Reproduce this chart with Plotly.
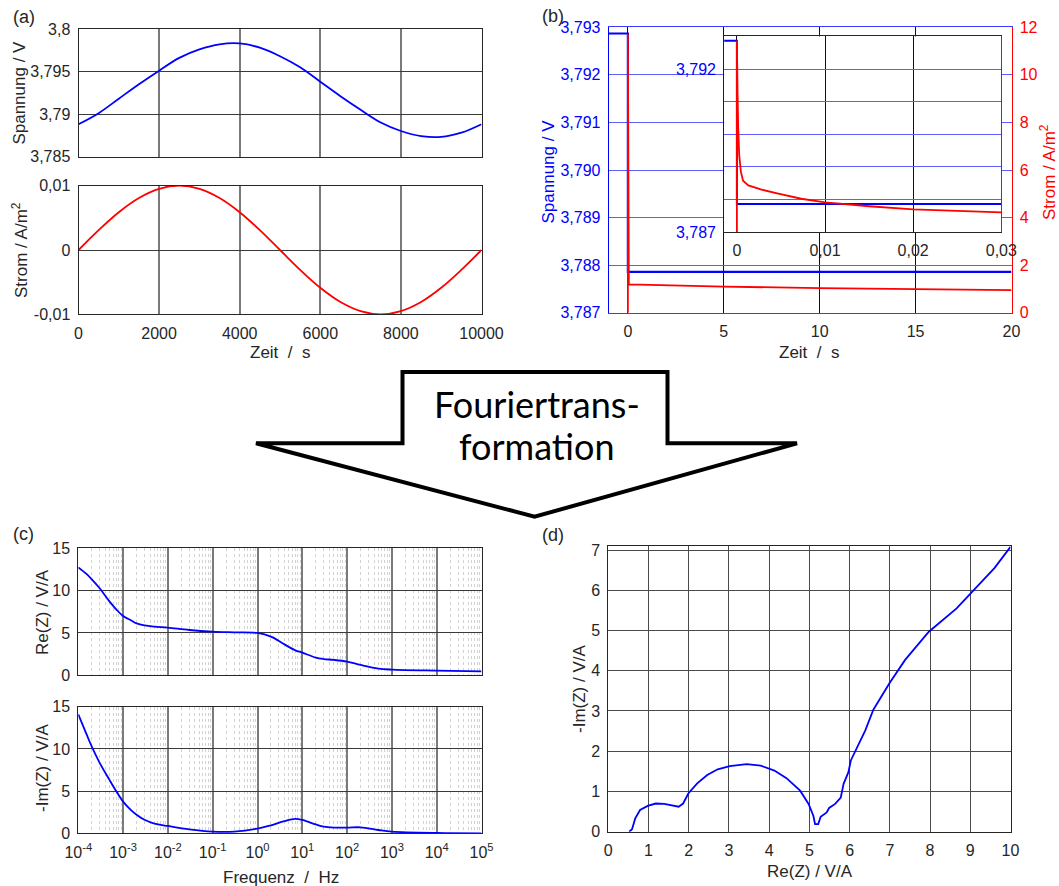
import plotly.graph_objects as go

W, H = 1059, 886


def xdom(a, b):
    return [a / W, b / W]


def ydom(top, bottom):
    return [1 - bottom / H, 1 - top / H]


def px(x):
    return x / W


def py(y):
    return 1 - y / H


FONT = "Liberation Sans, Arial, sans-serif"
TXT = "#262626"
BLUE = "#0000ff"
RED = "#ff0000"

# ---------------- data (a) ----------------
time_a = [0, 500, 1000, 1500, 2000, 2500, 3000, 3500, 4000, 4500, 5000,
          5500, 6000, 6500, 7000, 7500, 8000, 8500, 9000, 9500, 10000]
volt_a = [3.7888, 3.7901, 3.7918, 3.7935, 3.7951, 3.7966, 3.7976, 3.7982, 3.7983, 3.7978, 3.7968,
          3.7955, 3.7938, 3.7921, 3.7905, 3.7890, 3.7880, 3.7874, 3.7873, 3.7878, 3.7888]
curr_a = [0.0, 0.00309, 0.00588, 0.00809, 0.00951, 0.0100, 0.00951, 0.00809, 0.00588, 0.00309, 0.0,
          -0.00309, -0.00588, -0.00809, -0.00951, -0.0100, -0.00951, -0.00809, -0.00588, -0.00309, 0.0]
ticks_a_x = [0, 2000, 4000, 6000, 8000, 10000]
ticktext_a_x = ["0", "2000", "4000", "6000", "8000", "10000"]
ticks_a_v = [3.785, 3.79, 3.795, 3.8]
ticktext_a_v = ["3,785", "3,79", "3,795", "3,8"]
ticks_a_i = [-0.01, 0, 0.01]
ticktext_a_i = ["-0,01", "0", "0,01"]

# ---------------- data (b) ----------------
time_b_volt = [-1, 0, 0, 20]
volt_b = [3.79287, 3.79287, 3.78786, 3.78786]
time_b_curr = [0, 0, 0.05, 1, 2, 5, 10, 15, 20]
curr_b = [0, 11.73, 1.19, 1.17, 1.15, 1.10, 1.03, 0.98, 0.95]
ticks_b_x = [0, 5, 10, 15, 20]
ticktext_b_x = ["0", "5", "10", "15", "20"]
ticks_b_v = [3.787, 3.788, 3.789, 3.790, 3.791, 3.792, 3.793]
ticktext_b_v = ["3,787", "3,788", "3,789", "3,790", "3,791", "3,792", "3,793"]
ticks_b_i = [0, 2, 4, 6, 8, 10, 12]
ticktext_b_i = ["0", "2", "4", "6", "8", "10", "12"]

# inset of (b)
time_i_volt = [-0.002, 0, 0, 0.03]
volt_i = [3.79287, 3.79287, 3.78786, 3.78786]
time_i_curr = [0, 0, 0.00008, 0.00015, 0.00026, 0.00045, 0.0007, 0.0013,
               0.0028, 0.0047, 0.0073, 0.01, 0.015, 0.02, 0.025, 0.03]
curr_i = [0, 11.73, 8.4, 6.4, 4.75, 3.7, 3.15, 2.86,
          2.6, 2.35, 2.04, 1.82, 1.58, 1.39, 1.28, 1.21]
ticks_i_x = [0, 0.01, 0.02, 0.03]
ticktext_i_x = ["0", "0,01", "0,02", "0,03"]
ticktext_i_v = ["3,787", "", "", "", "", "3,792", ""]

# ---------------- data (c) ----------------
freq_c = [1e-4, 1.5e-4, 2e-4, 3e-4, 5e-4, 7e-4, 1e-3, 1.5e-3, 2e-3, 3e-3, 5e-3, 1e-2, 3e-2,
          1e-1, 3e-1, 1, 2, 4, 7, 10, 20, 30, 50, 100, 200, 500, 1e3, 1e4, 1e5]
re_c = [12.75, 12.0, 11.34, 10.28, 8.7, 7.8, 7.0, 6.5, 6.14, 5.9, 5.75, 5.63, 5.35,
        5.16, 5.08, 5.0, 4.57, 3.65, 2.95, 2.68, 2.09, 1.92, 1.82, 1.61, 1.22, 0.79, 0.67, 0.55, 0.47]
im_c = [14.09, 11.84, 10.26, 8.35, 6.3, 5.0, 3.75, 2.75, 2.2, 1.6, 1.15, 0.87, 0.47,
        0.2, 0.2, 0.55, 0.95, 1.45, 1.7, 1.58, 1.05, 0.79, 0.68, 0.67, 0.71, 0.39, 0.2, 0.04, 0.0]
ticks_c_x = [1e-4, 1e-3, 1e-2, 1e-1, 1, 10, 100, 1e3, 1e4, 1e5]
ticktext_c_x = ["10<sup>-4</sup>", "10<sup>-3</sup>", "10<sup>-2</sup>", "10<sup>-1</sup>",
                "10<sup>0</sup>", "10<sup>1</sup>", "10<sup>2</sup>", "10<sup>3</sup>",
                "10<sup>4</sup>", "10<sup>5</sup>"]
minor_c_x = [m * d for d in [1e-4, 1e-3, 1e-2, 1e-1, 1, 10, 100, 1e3, 1e4] for m in range(2, 10)]
ticks_c_y = [0, 5, 10, 15]
ticktext_c_y = ["0", "5", "10", "15"]

# ---------------- data (d) ----------------
re_d = [0.52, 0.59, 0.67, 0.79, 0.98, 1.18, 1.39, 1.61, 1.75, 1.86, 1.99, 2.21, 2.46, 2.72,
        3.02, 3.44, 3.79, 4.13, 4.43, 4.77, 4.98, 5.10, 5.14, 5.22, 5.28, 5.43, 5.49, 5.64,
        5.78, 5.85, 5.97, 6.03, 6.18, 6.39, 6.59, 6.99, 7.38, 7.97, 8.66, 9.17, 9.6, 10.0]
im_d = [0.0, 0.06, 0.33, 0.54, 0.64, 0.70, 0.69, 0.65, 0.62, 0.70, 0.95, 1.20, 1.41, 1.55,
        1.63, 1.68, 1.64, 1.52, 1.33, 1.02, 0.69, 0.39, 0.19, 0.19, 0.37, 0.48, 0.59, 0.69,
        0.85, 1.19, 1.48, 1.77, 2.07, 2.52, 3.03, 3.69, 4.27, 4.97, 5.55, 6.09, 6.55, 7.08]
ticks_d_x = list(range(0, 11))
ticks_d_y = list(range(0, 8))

fig = go.Figure()


def line(x, y, xa, ya, color, width=1.8, shape="linear"):
    fig.add_trace(go.Scatter(x=x, y=y, xaxis=xa, yaxis=ya, mode="lines",
                             line=dict(color=color, width=width, shape=shape),
                             showlegend=False, hoverinfo="skip"))


line(time_a, volt_a, "x", "y", BLUE, 1.8, "spline")
line(time_a, curr_a, "x2", "y2", RED, 1.8, "spline")
line(time_b_volt, volt_b, "x3", "y3", BLUE, 2.2)
line(time_b_curr, curr_b, "x3", "y4", RED, 1.8)
line(time_i_volt, volt_i, "x5", "y5", BLUE, 2.0)
line(time_i_curr, curr_i, "x5", "y6", RED, 1.8)
line(freq_c, re_c, "x7", "y7", BLUE, 1.8, "spline")
line(freq_c, im_c, "x8", "y8", BLUE, 1.8, "spline")
line(re_d, im_d, "x9", "y9", BLUE, 1.8)

tf = dict(family=FONT, size=16, color=TXT)
base = dict(showline=True, mirror=True, linecolor=TXT, linewidth=1, ticks="",
            zeroline=False, showgrid=True, fixedrange=True, tickfont=tf, automargin=False,
            ticklabelstandoff=4, tickmode="array")
GX = dict(gridcolor="#7a7a7a", gridwidth=1.5)
GY = dict(gridcolor="#3a3a3a", gridwidth=1)
MINOR = dict(tickvals=minor_c_x, showgrid=True, gridcolor="#d2d2d2",
             griddash="dot", gridwidth=1, ticks="")

layout = dict(
    template="none",
    width=W, height=H, margin=dict(l=0, r=0, t=0, b=0, pad=0, autoexpand=False),
    paper_bgcolor="white", plot_bgcolor="white", showlegend=False,
    separators=", ",
    # (a)
    xaxis=dict(base, **GX, domain=xdom(78.5, 481.5), range=[0, 10000], tickvals=ticks_a_x,
               showticklabels=False, anchor="y"),
    yaxis=dict(base, **GY, domain=ydom(29, 156.5), range=[3.785, 3.8], tickvals=ticks_a_v,
               ticktext=ticktext_a_v, anchor="x"),
    xaxis2=dict(base, **GX, domain=xdom(78.5, 481.5), range=[0, 10000], tickvals=ticks_a_x,
                ticktext=ticktext_a_x, anchor="y2"),
    yaxis2=dict(base, **GY, domain=ydom(185.7, 314.3), range=[-0.01, 0.01], tickvals=ticks_a_i,
                ticktext=ticktext_a_i, anchor="x2"),
    # (b) main
    xaxis3=dict(base, domain=xdom(608.7, 1011.5), range=[-1, 20], tickvals=ticks_b_x,
                ticktext=ticktext_b_x, gridcolor="#111111", gridwidth=1,
                linecolor="#3b3bff", anchor="y3"),
    yaxis3=dict(base, domain=ydom(27.3, 312.7), range=[3.787, 3.793], tickvals=ticks_b_v,
                ticktext=ticktext_b_v, tickfont=dict(family=FONT, size=16, color=BLUE),
                linecolor=BLUE, mirror=False, gridcolor="#5c5cff", gridwidth=1, anchor="x3"),
    yaxis4=dict(base, overlaying="y3", side="right", range=[0, 12], tickvals=ticks_b_i,
                ticktext=ticktext_b_i, tickfont=dict(family=FONT, size=16, color=RED),
                linecolor=RED, mirror=False, showgrid=False, anchor="x3"),
    # (b) inset
    xaxis5=dict(base, domain=xdom(724.2, 1001.3), range=[-0.00144, 0.03], tickvals=ticks_i_x,
                ticktext=ticktext_i_x, gridcolor="#111111", gridwidth=1, anchor="y5"),
    yaxis5=dict(base, domain=ydom(36.4, 232), range=[3.787, 3.793], tickvals=ticks_b_v,
                ticktext=ticktext_i_v, tickfont=dict(family=FONT, size=16, color=BLUE),
                linecolor=BLUE, mirror=False, gridcolor="#5c5cff", gridwidth=1, anchor="x5"),
    yaxis6=dict(base, overlaying="y5", side="right", range=[0, 12], tickvals=ticks_b_i,
                showticklabels=False, linecolor=RED, mirror=False, showgrid=False, anchor="x5"),
    # (c)
    xaxis7=dict(base, **GX, type="log", domain=xdom(78.3, 481.5), range=[-4, 5],
                tickvals=ticks_c_x, showticklabels=False, anchor="y7", minor=MINOR),
    yaxis7=dict(base, **GY, domain=ydom(548.3, 675.3), range=[0, 15], tickvals=ticks_c_y,
                ticktext=ticktext_c_y, anchor="x7"),
    xaxis8=dict(base, **GX, type="log", domain=xdom(78.3, 481.5), range=[-4, 5],
                tickvals=ticks_c_x, ticktext=ticktext_c_x, anchor="y8", minor=MINOR),
    yaxis8=dict(base, **GY, domain=ydom(706.7, 833.3), range=[0, 15], tickvals=ticks_c_y,
                ticktext=ticktext_c_y, anchor="x8"),
    # (d)
    xaxis9=dict(base, domain=xdom(608.3, 1010.5), range=[0, 10], tickvals=ticks_d_x,
                ticktext=[str(v) for v in ticks_d_x], gridcolor="#4a4a4a", gridwidth=1.3,
                anchor="y9"),
    yaxis9=dict(base, domain=ydom(546, 831.7), range=[0, 7.1], tickvals=ticks_d_y,
                ticktext=[str(v) for v in ticks_d_y], gridcolor="#4a4a4a", gridwidth=1.3,
                anchor="x9"),
)
fig.update_layout(**layout)

annotations = []


def ann(text, x, y, size=17, color=TXT, angle=0, family=FONT):
    annotations.append(dict(text=text, x=px(x), y=py(y), xref="paper", yref="paper",
                            xanchor="center", yanchor="middle", showarrow=False,
                            textangle=angle, font=dict(family=family, size=size, color=color)))


NB = "\u00a0"
ann("(a)", 23.6, 16.7, 18)
ann("(b)", 552.6, 15.5, 18)
ann("(c)", 23.7, 534, 18)
ann("(d)", 552.7, 535, 18)
ann("Spannung / V", 18.6, 93, angle=-90)
ann("Strom / A/m<sup>2</sup>", 20, 250, angle=-90)
ann(f"Zeit {NB}/{NB} s", 280, 353)
ann("Spannung / V", 547.5, 172, color=BLUE, angle=-90)
ann("Strom / A/m<sup>2</sup>", 1048, 172, color=RED, angle=-90)
ann(f"Zeit {NB}/{NB} s", 809, 353)
ann("Re(Z) / V/A", 42, 612, angle=-90)
ann("-Im(Z) / V/A", 42, 768, angle=-90)
ann(f"Frequenz {NB}/{NB} Hz", 280.7, 877)
ann("-Im(Z) / V/A", 579, 689, angle=-90)
ann("Re(Z) / V/A", 809.7, 871.7)
ann("Fouriertrans-", 536.5, 404, size=36, color="#000000", family="Lato, Open Sans, sans-serif")
ann("formation", 536, 446, size=36, color="#000000", family="Lato, Open Sans, sans-serif")

# big arrow (decoration)
arrow_pts = [(402.5, 372), (667.5, 372), (667.5, 443.3), (797, 443.3), (534.6, 516.7),
             (256, 443.3), (402.5, 443.3)]
path = "M " + " L ".join(f"{px(x):.5f},{py(y):.5f}" for x, y in arrow_pts) + " Z"
shapes = [dict(type="path", path=path, xref="paper", yref="paper", fillcolor="white",
               line=dict(color="black", width=4), layer="below")]

fig.update_layout(annotations=annotations, shapes=shapes)
fig.write_html("out.html")
